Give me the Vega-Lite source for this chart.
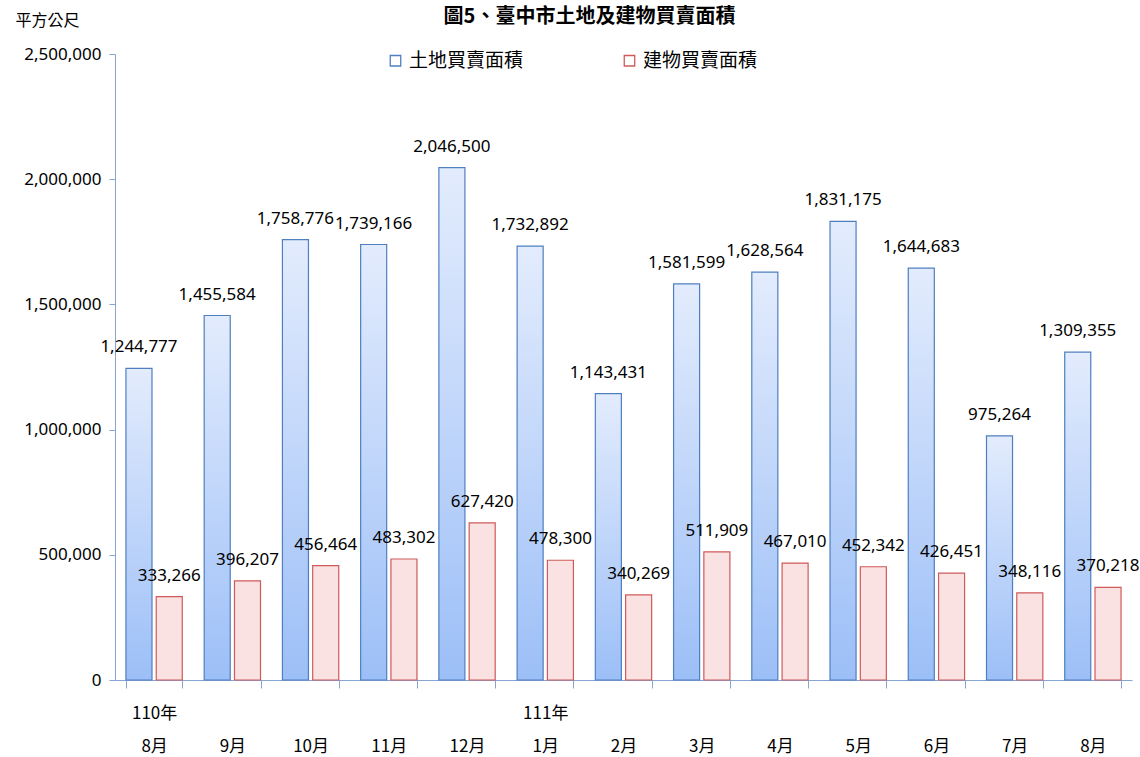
{
  "$schema": "https://vega.github.io/schema/vega-lite/v6.json",
  "autosize": "none",
  "width": 1017,
  "height": 626,
  "padding": {"left": 115, "top": 54, "right": 8, "bottom": 77},
  "background": "white",
  "config": {
    "font": "Noto Sans CJK TC",
    "view": {"stroke": null}
  },
  "title": {
    "text": "圖5、臺中市土地及建物買賣面積",
    "font": "Noto Sans CJK TC",
    "fontSize": 20,
    "fontWeight": "bold",
    "color": "#000000",
    "anchor": "middle",
    "frame": "group",
    "dx": -34,
    "offset": -15
  },
  "data": {
    "values": [
      {"period": "110年|8月", "series": "土地買賣面積", "value": 1244777},
      {"period": "110年|8月", "series": "建物買賣面積", "value": 333266},
      {"period": "|9月", "series": "土地買賣面積", "value": 1455584},
      {"period": "|9月", "series": "建物買賣面積", "value": 396207},
      {"period": "|10月", "series": "土地買賣面積", "value": 1758776},
      {"period": "|10月", "series": "建物買賣面積", "value": 456464},
      {"period": "|11月", "series": "土地買賣面積", "value": 1739166},
      {"period": "|11月", "series": "建物買賣面積", "value": 483302},
      {"period": "|12月", "series": "土地買賣面積", "value": 2046500},
      {"period": "|12月", "series": "建物買賣面積", "value": 627420},
      {"period": "111年|1月", "series": "土地買賣面積", "value": 1732892},
      {"period": "111年|1月", "series": "建物買賣面積", "value": 478300},
      {"period": "|2月", "series": "土地買賣面積", "value": 1143431},
      {"period": "|2月", "series": "建物買賣面積", "value": 340269},
      {"period": "|3月", "series": "土地買賣面積", "value": 1581599},
      {"period": "|3月", "series": "建物買賣面積", "value": 511909},
      {"period": "|4月", "series": "土地買賣面積", "value": 1628564},
      {"period": "|4月", "series": "建物買賣面積", "value": 467010},
      {"period": "|5月", "series": "土地買賣面積", "value": 1831175},
      {"period": "|5月", "series": "建物買賣面積", "value": 452342},
      {"period": "|6月", "series": "土地買賣面積", "value": 1644683},
      {"period": "|6月", "series": "建物買賣面積", "value": 426451},
      {"period": "|7月", "series": "土地買賣面積", "value": 975264},
      {"period": "|7月", "series": "建物買賣面積", "value": 348116},
      {"period": "|8月", "series": "土地買賣面積", "value": 1309355},
      {"period": "|8月", "series": "建物買賣面積", "value": 370218}
    ]
  },
  "encoding": {
    "x": {
      "field": "period",
      "type": "nominal",
      "sort": null,
      "scale": {"paddingInner": 0.28, "paddingOuter": 0.14},
      "axis": {
        "title": null,
        "labelExpr": "isString(datum.value) ? split(datum.value, '|') : ''",
        "labelAngle": 0,
        "labelFont": "Noto Sans CJK TC",
        "labelFontSize": 17,
        "labelColor": "#000000",
        "labelLineHeight": 33,
        "labelPadding": 17,
        "labelBaseline": "top",
        "domainColor": "#86a5d3",
        "tickColor": "#86a5d3",
        "tickBand": "extent",
        "tickSize": 8,
        "domainWidth": 1,
        "grid": false
      }
    },
    "xOffset": {
      "field": "series",
      "type": "nominal",
      "sort": ["土地買賣面積", "建物買賣面積"],
      "scale": {"paddingInner": 0.14}
    },
    "y": {
      "field": "value",
      "type": "quantitative",
      "scale": {"domain": [0, 2500000], "nice": false},
      "axis": {
        "title": "平方公尺",
        "titleAngle": 0,
        "titleAlign": "left",
        "titleBaseline": "middle",
        "titleX": -100,
        "titleY": -34,
        "titleFont": "Noto Sans CJK TC",
        "titleFontSize": 16,
        "titleFontWeight": "normal",
        "titleColor": "#000000",
        "values": [0, 500000, 1000000, 1500000, 2000000, 2500000],
        "format": ",d",
        "labelFont": "Noto Sans",
        "labelFontSize": 17,
        "labelColor": "#000000",
        "labelPadding": 8,
        "domainColor": "#86a5d3",
        "tickColor": "#86a5d3",
        "tickSize": 6,
        "grid": false
      }
    }
  },
  "layer": [
    {
      "transform": [{"filter": "datum.series == '土地買賣面積'"}],
      "mark": {
        "type": "bar",
        "stroke": "#4f7fc0",
        "strokeWidth": 1.2,
        "fill": {
          "gradient": "linear",
          "x1": 0, "y1": 0, "x2": 0, "y2": 1,
          "stops": [
            {"offset": 0, "color": "#e3ecfd"},
            {"offset": 1, "color": "#9cbff7"}
          ]
        }
      }
    },
    {
      "transform": [{"filter": "datum.series == '建物買賣面積'"}],
      "mark": {
        "type": "bar",
        "stroke": "#cf5a5a",
        "strokeWidth": 1.2,
        "fill": "#fae2e2"
      }
    },
    {
      "mark": {
        "type": "point",
        "shape": "square",
        "size": 0,
        "opacity": 0,
        "filled": true
      },
      "encoding": {
        "fill": {
          "field": "series",
          "type": "nominal",
          "scale": {"domain": ["土地買賣面積", "建物買賣面積"], "range": ["#c3d6fa", "#f7d9d9"]},
          "legend": {
            "title": null,
            "orient": "none",
            "direction": "horizontal",
            "legendX": 271,
            "legendY": -3,
            "symbolType": "square",
            "symbolSize": 110,
            "symbolStrokeWidth": 1.3,
            "symbolOpacity": 1,
            "labelFont": "Noto Sans CJK TC",
            "labelFontSize": 19,
            "labelColor": "#000000",
            "labelOffset": 4,
            "columnPadding": 96
          }
        },
        "stroke": {
          "field": "series",
          "type": "nominal",
          "scale": {"domain": ["土地買賣面積", "建物買賣面積"], "range": ["#4f7fc0", "#cf5a5a"]}
        }
      }
    },
    {
      "mark": {
        "type": "text",
        "baseline": "alphabetic",
        "align": "center",
        "dy": -16,
        "font": "Noto Sans",
        "fontSize": 17,
        "color": "#000000"
      },
      "encoding": {
        "text": {"field": "value", "type": "quantitative", "format": ",d"}
      }
    }
  ]
}
